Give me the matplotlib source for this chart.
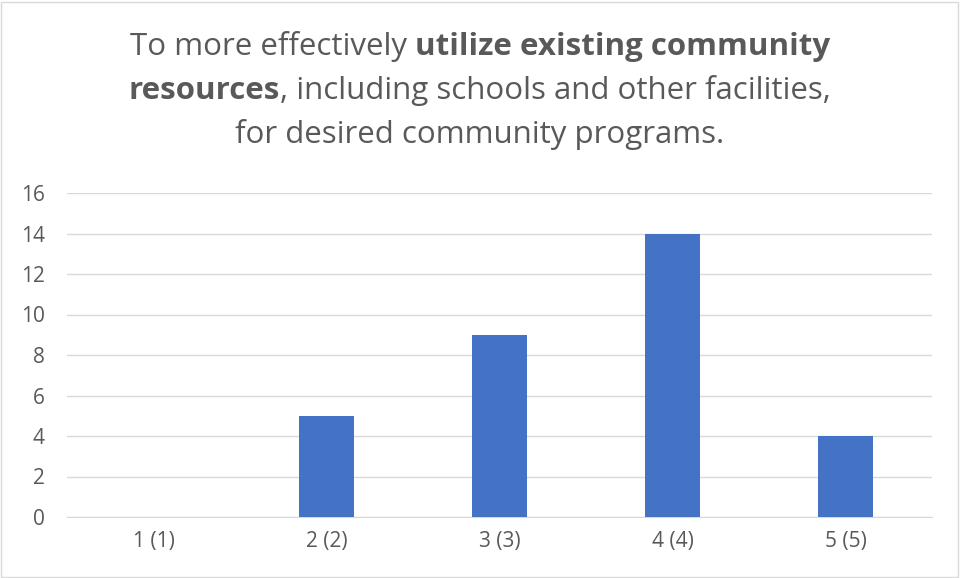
import matplotlib
matplotlib.use("Agg")
import matplotlib.pyplot as plt
from matplotlib.patches import Rectangle

categories = ["1 (1)", "2 (2)", "3 (3)", "4 (4)", "5 (5)"]
counts = [0, 5, 9, 14, 4]
y_ticks = [0, 2, 4, 6, 8, 10, 12, 14, 16]

# title lines as (text, bold) pieces
title_lines = [
    [("To more effectively ", False), ("utilize existing community", True)],
    [("resources", True), (", including schools and other facilities,", False)],
    [("for desired community programs.", False)],
]

plt.rcParams["font.family"] = ["Open Sans", "DejaVu Sans"]

fig = plt.figure(figsize=(9.6, 5.78), dpi=100)
ax = fig.add_axes([67 / 960, 61 / 578, 865 / 960, 324 / 578])

ax.bar(range(len(categories)), counts, width=0.32, color="#4472C4", zorder=3)
ax.set_xlim(-0.5, len(categories) - 0.5)
ax.set_ylim(0, 16)
ax.set_yticks(y_ticks)
ax.set_xticks(range(len(categories)))
ax.set_xticklabels(categories)
ax.grid(axis="y", color="#d9d9d9", linewidth=1, zorder=0)
for side in ["top", "right", "left"]:
    ax.spines[side].set_visible(False)
ax.spines["bottom"].set_color("#d9d9d9")
ax.tick_params(axis="both", length=0, labelsize=15, labelcolor="#595959")
ax.tick_params(axis="x", pad=10)
ax.tick_params(axis="y", pad=16)

# outer chart border
fig.patches.append(Rectangle((1 / 960, 1 / 578), 957 / 960, 575 / 578,
                             transform=fig.transFigure, fill=False,
                             edgecolor="#d9d9d9", linewidth=1))

renderer = fig.canvas.get_renderer()
line_y = [47, 91, 135]
for pieces, yy in zip(title_lines, line_y):
    texts = []
    x = 0
    for txt, bold in pieces:
        t = fig.text(x, 1 - yy / 578, txt, fontsize=22.5, color="#595959",
                     fontweight="bold" if bold else "normal",
                     ha="left", va="center")
        texts.append(t)
        w = t.get_window_extent(renderer).width / 960
        x += w
    start = 0.5 - x / 2
    offset = start
    for t in texts:
        w = t.get_window_extent(renderer).width / 960
        t.set_x(offset)
        offset += w

fig.savefig("out.png", dpi=100)
